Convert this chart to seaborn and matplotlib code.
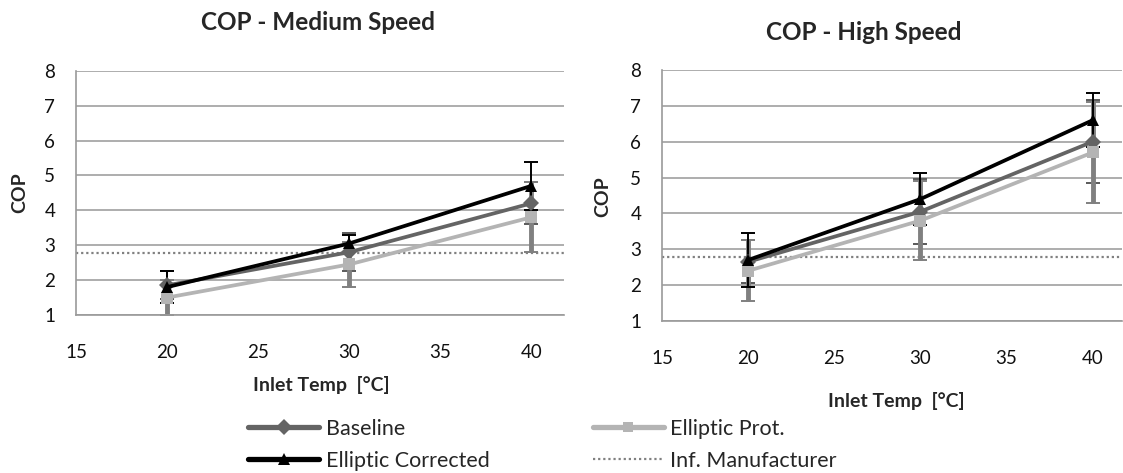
import numpy as np
import pandas as pd
import matplotlib
matplotlib.use("Agg")
import matplotlib.pyplot as plt
import seaborn as sns

# data
temps = [20, 30, 40]
series = ["Baseline", "Elliptic Prot.", "Elliptic Corrected"]

med_baseline = [1.85, 2.8, 4.2]
med_prot = [1.5, 2.45, 3.8]
med_corrected = [1.8, 3.05, 4.7]
med_err_baseline = [0.4, 0.55, 0.6]
med_err_prot = [0.5, 0.65, 1.0]
med_err_corrected = [0.45, 0.25, 0.68]

high_baseline = [2.65, 4.05, 6.0]
high_prot = [2.4, 3.8, 5.7]
high_corrected = [2.7, 4.4, 6.6]
high_err_baseline = [0.6, 0.9, 1.15]
high_err_prot = [0.85, 1.1, 1.4]
high_err_corrected = [0.75, 0.72, 0.75]

manufacturer_cop = 2.78

sns.set_style("white")
plt.rcParams['font.family'] = ['Lato', 'DejaVu Sans']

colors = {"Baseline": "#646464", "Elliptic Prot.": "#b4b4b4", "Elliptic Corrected": "#000000"}
markers = {"Baseline": "D", "Elliptic Prot.": "s", "Elliptic Corrected": "^"}
err_style = {"Baseline": ("#5a5a5a", 1.4), "Elliptic Prot.": ("#808080", 3.5),
             "Elliptic Corrected": ("#000000", 1.4)}


def make_df(b, p, c):
    rows = []
    for name, vals in zip(series, [b, p, c]):
        for t, v in zip(temps, vals):
            rows.append({"temp": t, "cop": v, "series": name})
    return pd.DataFrame(rows)


def draw_panel(ax, df, errs, xmax):
    for name, e in zip(series, errs):
        sub = df[df.series == name]
        col, lw = err_style[name]
        _, caps, _ = ax.errorbar(sub.temp, sub.cop, yerr=e, fmt="none", ecolor=col,
                                 elinewidth=lw, capsize=5, capthick=1.4, zorder=2)
        for cap in caps:
            cap.set_color("#000000")
    sns.lineplot(data=df, x="temp", y="cop", hue="series", style="series",
                 palette=colors, markers=markers, dashes=False, linewidth=2.7,
                 markersize=8, markeredgewidth=0, ax=ax, legend=False, zorder=3)
    ax.axhline(manufacturer_cop, color="#808080", linestyle=(0, (1, 1.3)), linewidth=1.6, zorder=2.5)
    ax.set_xlim(15, xmax)
    ax.set_ylim(1, 8)
    ax.set_xticks([15, 20, 25, 30, 35, 40])
    ax.set_yticks(range(1, 9))
    ax.grid(axis="y", color="#a0a0a0", linewidth=1.2)
    ax.set_axisbelow(True)
    for s in ["top", "right"]:
        ax.spines[s].set_visible(False)
    for s in ["left", "bottom"]:
        ax.spines[s].set_color("#9a9a9a")
        ax.spines[s].set_linewidth(1.2)
    ax.tick_params(axis="x", direction="inout", length=10, width=1.2, color="#9a9a9a",
                   pad=16, labelsize=13.5, labelcolor="#111111")
    ax.tick_params(axis="y", direction="out", length=5, width=1.2, color="#9a9a9a",
                   pad=10, labelsize=13.5, labelcolor="#111111")
    ax.set_xlabel("")
    ax.set_ylabel("")


fig = plt.figure(figsize=(11.23, 4.73), dpi=100)
ax1 = fig.add_axes([0.0677, 0.334, 0.4346, 0.5165])
ax2 = fig.add_axes([0.5895, 0.3214, 0.4096, 0.5306])

draw_panel(ax1, make_df(med_baseline, med_prot, med_corrected),
           [med_err_baseline, med_err_prot, med_err_corrected], 41.8)
draw_panel(ax2, make_df(high_baseline, high_prot, high_corrected),
           [high_err_baseline, high_err_prot, high_err_corrected], 41.7)

fig.text(318 / 1123, 1 - 22 / 473, "COP - Medium Speed", ha="center", va="center",
         fontsize=17.5, fontweight="bold")
fig.text(864 / 1123, 1 - 32 / 473, "COP - High Speed", ha="center", va="center",
         fontsize=17.5, fontweight="bold")
fig.text(20 / 1123, 1 - 193 / 473, "COP", rotation=90, ha="center", va="center",
         fontsize=14, fontweight="bold")
fig.text(603 / 1123, 1 - 197 / 473, "COP", rotation=90, ha="center", va="center",
         fontsize=14, fontweight="bold")
fig.text(321 / 1123, 1 - 385 / 473, "Inlet Temp  [°C]", ha="center", va="center",
         fontsize=14, fontweight="bold")
fig.text(896 / 1123, 1 - 401 / 473, "Inlet Temp  [°C]", ha="center", va="center",
         fontsize=14, fontweight="bold")

# legend
handles = [
    plt.Line2D([], [], color=colors["Baseline"], marker="D", lw=3.8, ms=8, mew=0),
    plt.Line2D([], [], color=colors["Elliptic Corrected"], marker="^", lw=3.8, ms=9, mew=0),
    plt.Line2D([], [], color=colors["Elliptic Prot."], marker="s", lw=3.8, ms=7, mew=0),
    plt.Line2D([], [], color="#808080", linestyle=(0, (1, 1.3)), lw=1.6),
]
labels = ["Baseline", "Elliptic Corrected", "Elliptic Prot.", "Inf. Manufacturer"]
fig.legend(handles, labels, ncol=2, loc="upper left", bbox_to_anchor=(248 / 1123, 1 - 419 / 473),
           frameon=False, fontsize=15.5, handlelength=3.3, handletextpad=0.3,
           columnspacing=4.8, labelspacing=0.55, borderaxespad=0, borderpad=0)

fig.savefig("out.png", dpi=100)
